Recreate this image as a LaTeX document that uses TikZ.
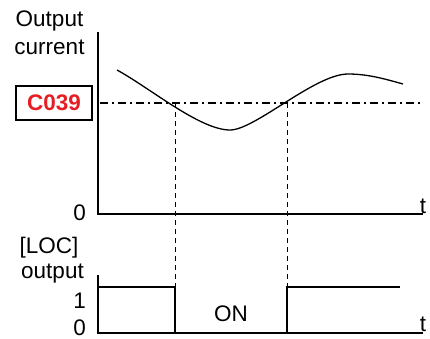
\documentclass[tikz,border=0pt]{standalone}
\usepackage{fontspec}
\setmainfont{Liberation Sans}
\usepackage{xcolor}
\usetikzlibrary{positioning, calc}

\definecolor{codered}{RGB}{230,30,35}

\begin{document}
\begin{tikzpicture}[
  x=1pt, y=1pt,
  txt/.style={inner sep=0pt, font=\fontsize{22.5}{26}\selectfont},
  axis/.style={line width=1.3pt},
  level/.style={dash pattern=on 8pt off 4pt on 2pt off 4pt, line width=1.1pt},
  guide/.style={dash pattern=on 5pt off 4pt, line width=0.9pt},
  sig/.style={line width=1.3pt}
]
  \useasboundingbox (0,0) rectangle (430,338);

  % labels
  \node[txt, anchor=base] (outA) at (49.5,311) {Output};
  \node[txt, anchor=base] (outB) at (49.5,283) {current};
  \node[txt, anchor=base] (locA) at (49,85) {[LOC]};
  \node[txt, anchor=base] (locB) at (52.5,60) {output};
  \node[txt, anchor=base east] (zeroA) at (86,118) {0};
  \node[txt, anchor=base east] (one) at (86,30) {1};
  \node[txt, anchor=base east] (zeroB) at (86,2.5) {0};
  \node[txt, anchor=base] (tA) at (423,125) {t};
  \node[txt, anchor=base] (tB) at (423,7) {t};
  \node[txt, anchor=base] (on) at (231,17) {ON};
  \node[draw, line width=1.1pt, minimum width=76pt, minimum height=34pt,
        font=\fontsize{22.5}{26}\selectfont\bfseries, text=codered] (code) at (54,235) {C039};

  % axes
  \coordinate (topA) at (98,306);
  \coordinate (origA) at (98,124);
  \coordinate (endA) at (423,124);
  \coordinate (topB) at (98,63);
  \coordinate (origB) at (98,5);
  \coordinate (endB) at (423,5);
  \draw[axis] (topA) -- (origA) -- (endA);
  \draw[axis] (topB) -- (origB) -- (endB);

  % threshold level
  \coordinate (lvlL) at (100,235);
  \coordinate (lvlR) at (423,235);
  \draw[level] (lvlL) -- (lvlR);

  % current curve
  \draw[line width=1.3pt] (117,268) .. controls (150,250) and (200,208) .. (230,208)
    .. controls (255,208) and (315,264) .. (348,264)
    .. controls (368,264) and (385,259) .. (403,254);

  % crossing guides
  \coordinate (crossA) at (175,235);
  \coordinate (crossB) at (287,235);
  \coordinate (hiA) at (175,51);
  \coordinate (hiB) at (287,51);
  \draw[guide] (crossA) -- (hiA);
  \draw[guide] (crossB) -- (hiB);

  % LOC signal
  \draw[sig] (98,51) -- (hiA) -- (175,5);
  \draw[sig] (287,5) -- (hiB) -- (400,51);
\end{tikzpicture}
\end{document}
